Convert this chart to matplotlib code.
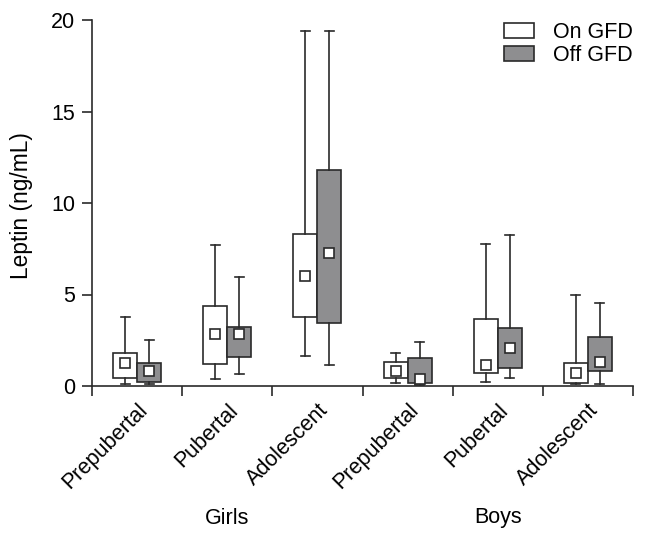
import numpy as np
import matplotlib
matplotlib.use("Agg")
import matplotlib.pyplot as plt
from matplotlib.patches import Patch
from matplotlib.transforms import blended_transform_factory, ScaledTranslation

plt.rcParams["font.family"] = ["Liberation Sans", "DejaVu Sans"]

categories = ["Prepubertal", "Pubertal", "Adolescent",
              "Prepubertal", "Pubertal", "Adolescent"]
groups = ["Girls", "Boys"]
series = ["On GFD", "Off GFD"]

# box stats (ng/mL)
on_low = [0.11, 0.37, 1.64, 0.15, 0.24, 0.10]
on_q1 = [0.42, 1.20, 3.75, 0.42, 0.69, 0.15]
on_q3 = [1.82, 4.37, 8.31, 1.33, 3.64, 1.27]
on_high = [3.79, 7.70, 19.40, 1.82, 7.76, 4.99]
on_mean = [1.24, 2.84, 6.01, 0.84, 1.15, 0.69]

off_low = [0.11, 0.66, 1.15, 0.05, 0.45, 0.11]
off_q1 = [0.24, 1.60, 3.42, 0.15, 1.00, 0.84]
off_q3 = [1.24, 3.21, 11.80, 1.55, 3.17, 2.66]
off_high = [2.51, 5.94, 19.40, 2.39, 8.27, 4.55]
off_mean = [0.84, 2.84, 7.25, 0.40, 2.09, 1.29]

INK = "#2a2a2a"
GRAY = "#8e8e90"
FS = 15.5


def make_stats(low, q1, q3, high, mean):
    return [dict(whislo=a, q1=b, med=(b + c) / 2, q3=c, whishi=d, mean=e)
            for a, b, c, d, e in zip(low, q1, q3, high, mean)]


fig = plt.figure(figsize=(6.46, 5.41), dpi=100)
ax = fig.add_axes([92 / 646, 1 - 386 / 541, 541 / 646, 366 / 541])

centers = np.arange(len(categories)) + 0.5
off = 0.133
w = 0.265
for stats, dx, fc in [(make_stats(on_low, on_q1, on_q3, on_high, on_mean), -off, "white"),
                      (make_stats(off_low, off_q1, off_q3, off_high, off_mean), off, GRAY)]:
    ax.bxp(stats, positions=centers + dx, widths=w, patch_artist=True,
           showmeans=True, showfliers=False, manage_ticks=False,
           boxprops=dict(facecolor=fc, edgecolor=INK, linewidth=1.2),
           whiskerprops=dict(color=INK, linewidth=1.2),
           capprops=dict(color=INK, linewidth=1.2),
           capwidths=0.1,
           medianprops=dict(visible=False),
           meanprops=dict(marker="s", markerfacecolor="white",
                          markeredgecolor=INK, markersize=6.8,
                          markeredgewidth=1.2))

ax.set_xlim(0, 6)
ax.set_ylim(0, 20)
ax.set_yticks([0, 5, 10, 15, 20])
ax.set_xticks(centers)
ax.set_xticklabels(categories, rotation=45, ha="right", va="top",
                   rotation_mode="anchor", fontsize=FS)
shift = ScaledTranslation(-5 / 100, 0, fig.dpi_scale_trans)
for lab in ax.get_xticklabels():
    lab.set_transform(lab.get_transform() + shift)
ax.set_xticks(np.arange(7), minor=True)
ax.tick_params(axis="x", which="major", length=0, pad=10)
ax.tick_params(axis="x", which="minor", length=7, width=1.2, color=INK)
ax.tick_params(axis="y", length=7, width=1.2, color=INK, labelsize=FS, pad=5)
for s in ["top", "right"]:
    ax.spines[s].set_visible(False)
for s in ["left", "bottom"]:
    ax.spines[s].set_color(INK)
    ax.spines[s].set_linewidth(1.2)

fig.text(22 / 646, 1 - 206 / 541, "Leptin (ng/mL)", rotation=90,
         ha="center", va="center", fontsize=16.4)

tr = blended_transform_factory(ax.transData, fig.transFigure)
for g, xc in zip(groups, [1.5, 4.5]):
    ax.text(xc, 1 - 518 / 541, g, transform=tr, ha="center", va="center",
            fontsize=FS)

handles = [Patch(facecolor="white", edgecolor=INK, linewidth=1.2),
           Patch(facecolor=GRAY, edgecolor=INK, linewidth=1.2)]
ax.legend(handles, series, loc="upper right", bbox_to_anchor=(1.015, 1.018),
          frameon=False, fontsize=FS, handlelength=1.4, handleheight=0.7,
          handletextpad=0.85, labelspacing=0.1, borderaxespad=0)

fig.savefig("out.png", dpi=100)
